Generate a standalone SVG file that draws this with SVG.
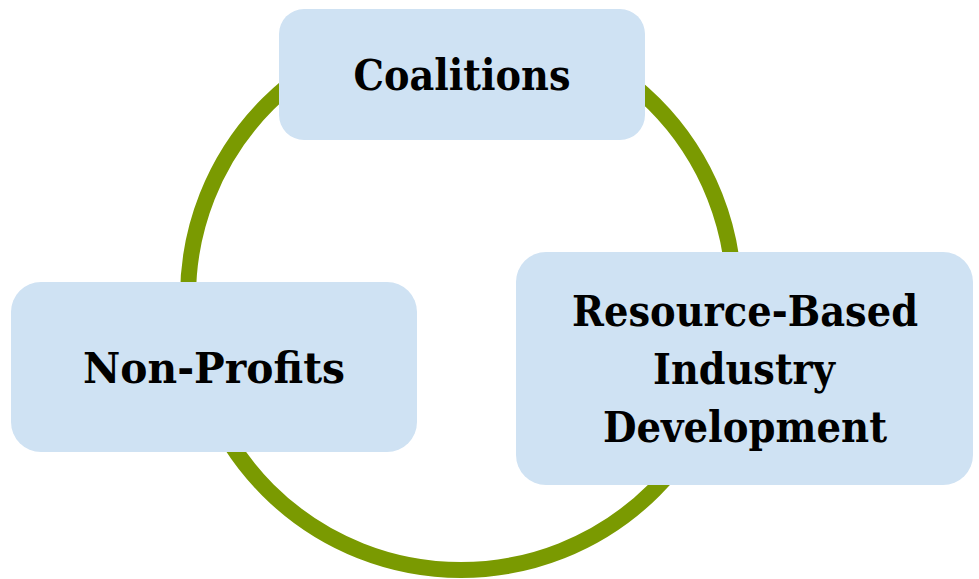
<svg xmlns="http://www.w3.org/2000/svg" width="979" height="579" viewBox="0 0 979 579">
<style>
.box{fill:#cfe2f3;}
.lbl{font-family:"DejaVu Serif","Liberation Serif",serif;font-weight:bold;font-size:42px;fill:#000;text-anchor:middle;}
.ring{fill:none;stroke:#7a9a01;stroke-width:16;}
</style>
<rect width="979" height="579" fill="#fff"/>
<g id="connectors">
<circle class="ring" cx="461" cy="297" r="273"/>
</g>
<g id="coalitions">
<rect class="box" x="279" y="9" width="366" height="131" rx="25"/>
<text class="lbl" x="462" y="90" textLength="217" lengthAdjust="spacingAndGlyphs">Coalitions</text>
</g>
<g id="non-profits">
<rect class="box" x="11" y="282" width="406" height="170" rx="30"/>
<text class="lbl" x="214" y="383" textLength="262" lengthAdjust="spacingAndGlyphs">Non-Profits</text>
</g>
<g id="resource-based">
<rect class="box" x="516" y="252" width="457" height="233" rx="30"/>
<text class="lbl" x="745" y="326" textLength="346" lengthAdjust="spacingAndGlyphs">Resource-Based</text>
<text class="lbl" x="744" y="384" textLength="182" lengthAdjust="spacingAndGlyphs">Industry</text>
<text class="lbl" x="745" y="442" textLength="284" lengthAdjust="spacingAndGlyphs">Development</text>
</g>
</svg>
